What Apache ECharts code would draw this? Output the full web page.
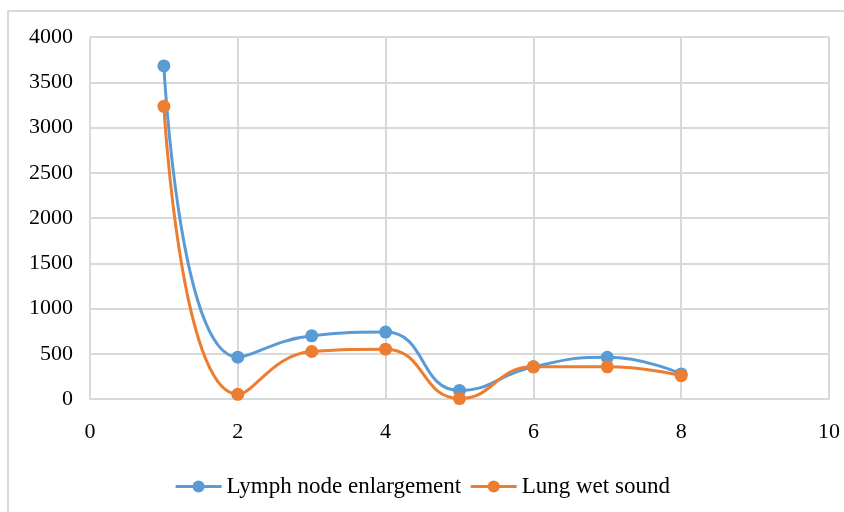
<!DOCTYPE html>
<html>
<head>
<meta charset="utf-8">
<script src="https://cdn.jsdelivr.net/npm/echarts@6/dist/echarts.min.js"></script>
<style>
  html, body { margin: 0; padding: 0; background: #fff; }
  #main { width: 844px; height: 512px; }
</style>
</head>
<body>
<div id="main"></div>
<script type="text/javascript">
    var myChart = echarts.init(document.getElementById('main'));

    var xValues = [1, 2, 3, 4, 5, 6, 7, 8];
    var lymphNode = [3680, 462, 698, 739, 95, 355, 460, 277];
    var lungWet = [3234, 52, 525, 551, 5, 355, 355, 258];
    var seriesNames = ['Lymph node enlargement', 'Lung wet sound'];

    function pairs(ys) {
        var out = [];
        for (var i = 0; i < xValues.length; i++) {
            out.push([xValues[i], ys[i]]);
        }
        return out;
    }

    var font = 'Liberation Serif';
    var option = {
        animation: false,
        textStyle: { fontFamily: font },
        grid: { left: 90, right: 15, top: 37, bottom: 113 },
        graphic: [{
            type: 'rect',
            shape: { x: 8, y: 11, width: 860, height: 540 },
            style: { fill: 'none', stroke: '#d9d9d9', lineWidth: 2 },
            silent: true
        }],
        legend: {
            data: seriesNames,
            bottom: 9,
            left: 'center',
            itemWidth: 46,
            itemHeight: 15,
            itemGap: 8,
            lineStyle: { width: 3 },
            textStyle: { fontFamily: font, fontSize: 23, color: '#000' }
        },
        xAxis: {
            type: 'value',
            min: 0,
            max: 10,
            interval: 2,
            axisLine: { show: true, onZero: false, lineStyle: { color: '#d9d9d9', width: 2 } },
            axisTick: { show: false },
            axisLabel: { color: '#000', fontSize: 22, fontFamily: font, margin: 22 },
            splitLine: { show: true, lineStyle: { color: '#d9d9d9', width: 2 } }
        },
        yAxis: {
            type: 'value',
            min: 0,
            max: 4000,
            interval: 500,
            axisLine: { show: false },
            axisTick: { show: false },
            axisLabel: {
                color: '#000', fontSize: 22, fontFamily: font, margin: 17,
                formatter: function (v) { return String(v); }
            },
            splitLine: { show: true, lineStyle: { color: '#d9d9d9', width: 2 } }
        },
        series: [{
            name: seriesNames[0],
            type: 'line',
            smooth: 0.5,
            data: pairs(lymphNode),
            symbol: 'circle',
            symbolSize: 13,
            itemStyle: { color: '#5b9bd5' },
            lineStyle: { color: '#5b9bd5', width: 3 }
        }, {
            name: seriesNames[1],
            type: 'line',
            smooth: 0.5,
            data: pairs(lungWet),
            symbol: 'circle',
            symbolSize: 13,
            itemStyle: { color: '#ed7d31' },
            lineStyle: { color: '#ed7d31', width: 3 }
        }]
    };
    myChart.setOption(option);
</script>
</body>
</html>
